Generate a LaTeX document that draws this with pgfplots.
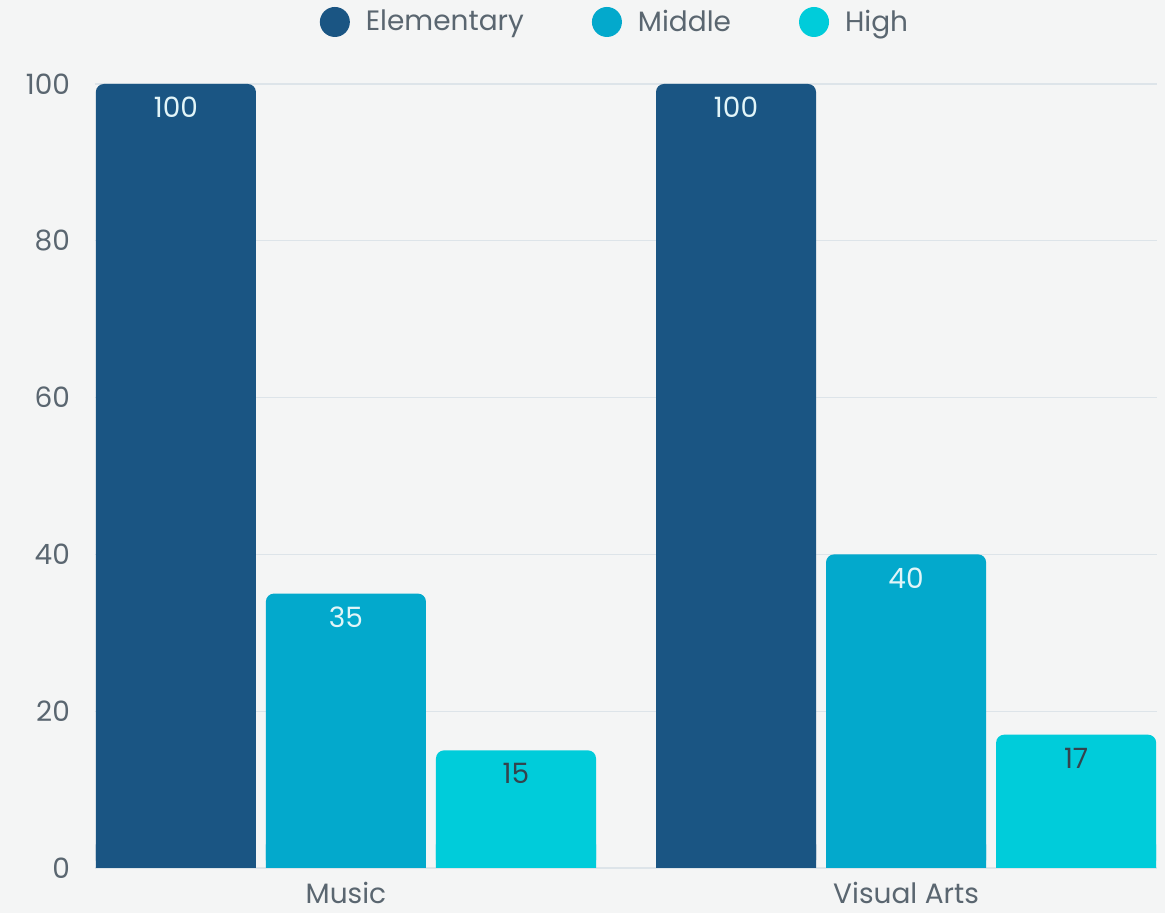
\documentclass[border=0pt]{standalone}
\usepackage{pgfplots}
\pgfplotsset{compat=1.18}
\usepackage{pgfplotstable}
\usepackage{fontspec}
\setmainfont{Poppins}
\definecolor{bg}{HTML}{F4F5F5}
\definecolor{cElem}{HTML}{1A5583}
\definecolor{cMid}{HTML}{03A9CC}
\definecolor{cHigh}{HTML}{00CCDA}
\definecolor{txt}{HTML}{5A6670}
\definecolor{gridc}{HTML}{DDE4E9}
\definecolor{lbllight}{HTML}{E2F5F8}
\definecolor{lbldark}{HTML}{34434D}
\newcommand{\fs}{\fontsize{14}{16.8}\selectfont}
\pgfplotstableread{
x val
0 100
1 100
}\elem
\pgfplotstableread{
x val
0 35
1 40
}\mid
\pgfplotstableread{
x val
0 15
1 17
}\high
\pgfplotsset{
  mybar/.style={ybar, fill=#1, draw=none, bar width=0.2857},
  bottomfix/.style={ybar, fill=#1, draw=none, bar width=0.2857, forget plot,
    y filter/.expression={min(y,3)}},
  lbl/.style={nodes near coords, every node near coord/.append style={font=\fs, text=#1, anchor=north, yshift=-3.0pt}},
}
\begin{document}
\begin{tikzpicture}
\path[use as bounding box, fill=bg] (0,0) rectangle (582.5pt,456.5pt);
\begin{axis}[
  at={(47.5pt,22.5pt)}, anchor=south west,
  scale only axis, width=531pt, height=392pt,
  xmin=-0.448, xmax=1.448, ymin=0, ymax=100,
  clip=false,
  axis line style={draw=none},
  ytick={0,20,...,100},
  xtick={0,1}, xticklabels={Music, Visual Arts},
  major tick length=0pt, tick style={draw=none},
  tick label style={font=\fs, text=txt},
  /pgf/number format/assume math mode=true,
  yticklabel style={xshift=-9pt},
  xticklabel style={yshift=-3.5pt},
  ymajorgrids, grid style={gridc, line width=0.6pt},
  legend columns=3,
  legend style={at={(0.5,1)}, xshift=-5pt, yshift=31pt, anchor=center, draw=none, fill=none,
    font=\fs, text=txt,
    /tikz/every odd column/.append style={column sep=6pt},
    /tikz/every even column/.append style={column sep=32pt}},
  legend cell align=left,
]
\addplot[mybar=cElem, bar shift=-0.3036, rounded corners=4pt,
  legend image code/.code={\fill[cElem] (0pt,0pt) circle (7.5pt);},
  lbl=lbllight, every node near coord/.append style={shift={(axis direction cs:-0.3036,0)}}]
  table[x=x, y=val] {\elem};
\addlegendentry{Elementary}
\addplot[mybar=cMid, bar shift=0, rounded corners=4pt,
  legend image code/.code={\fill[cMid] (0pt,0pt) circle (7.5pt);},
  lbl=lbllight]
  table[x=x, y=val] {\mid};
\addlegendentry{Middle}
\addplot[mybar=cHigh, bar shift=0.3036, rounded corners=4pt,
  legend image code/.code={\fill[cHigh] (0pt,0pt) circle (7.5pt);},
  lbl=lbldark, every node near coord/.append style={shift={(axis direction cs:0.3036,0)}}]
  table[x=x, y=val] {\high};
\addlegendentry{High}
\addplot[bottomfix=cElem, bar shift=-0.3036] table[x=x, y=val] {\elem};
\addplot[bottomfix=cMid, bar shift=0] table[x=x, y=val] {\mid};
\addplot[bottomfix=cHigh, bar shift=0.3036] table[x=x, y=val] {\high};
\end{axis}
\end{tikzpicture}
\end{document}
